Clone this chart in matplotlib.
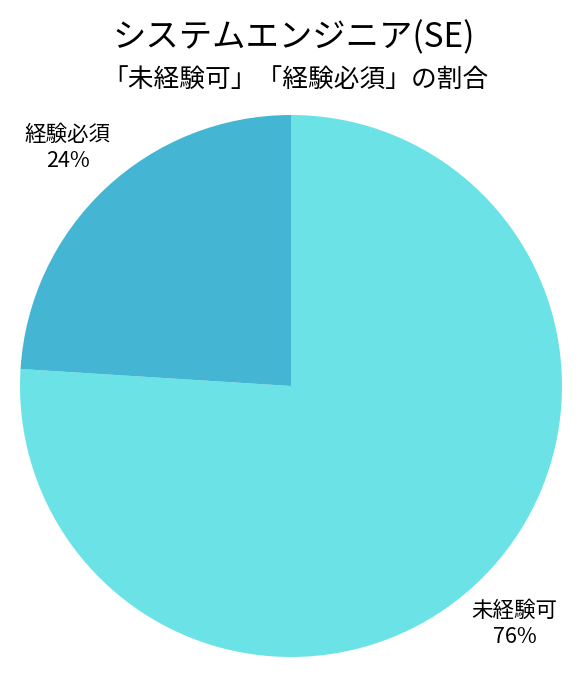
import matplotlib
matplotlib.use('Agg')
import matplotlib.pyplot as plt

# Tipus de lletra japonesa
plt.rcParams['font.family'] = ['Noto Sans CJK JP', 'DejaVu Sans']

titol = 'システムエンジニア(SE)'
subtitol = '「未経験可」「経験必須」の割合'
etiquetes = ['未経験可', '経験必須']
valors = [76, 24]
colors = ['#6be3e6', '#44b5d2']

fig = plt.figure(figsize=(5.83, 6.79), dpi=100)

# Eix del pastís
ax = fig.add_axes([20 / 583, 22 / 679, 542 / 583, 542 / 679])
wedges, texts = ax.pie(valors, colors=colors, startangle=90, counterclock=False,
                       labels=[f'{e}\n{v}%' for e, v in zip(etiquetes, valors)],
                       labeldistance=1.205, textprops={'fontsize': 15.5})
for t in texts:
    t.set_ha('center')
    t.set_va('center')
    t.set_linespacing(1.25)
ax.set_xlim(-1, 1)
ax.set_ylim(-1, 1)
ax.set_aspect('equal')

fig.text(294 / 583, 1 - 38 / 679, titol, ha='center', va='center', fontsize=24)
fig.text(295 / 583, 1 - 80 / 679, subtitol, ha='center', va='center', fontsize=18.5)

fig.savefig('out.png', dpi=100)
